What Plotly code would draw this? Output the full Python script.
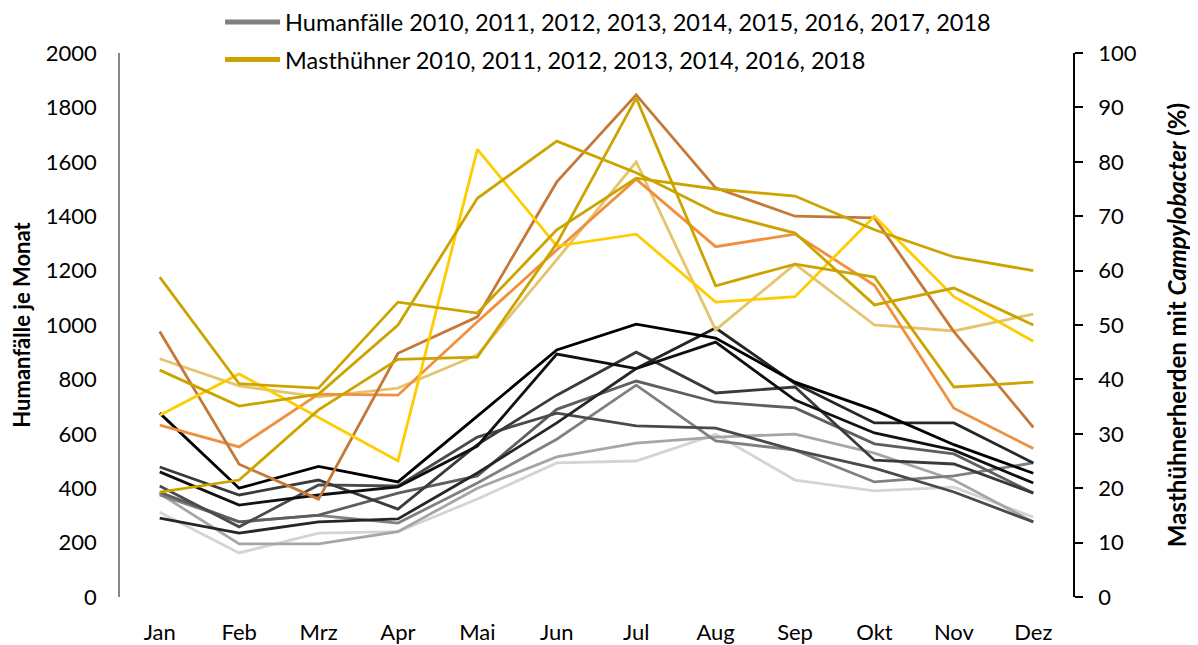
import plotly.graph_objects as go

months = ["Jan", "Feb", "Mrz", "Apr", "Mai", "Jun", "Jul", "Aug", "Sep", "Okt", "Nov", "Dez"]

# Humanfälle je Monat (left axis), one list per year line
human_a = [676, 400, 480, 423, 665, 908, 1003, 952, 790, 687, 560, 455]
human_b = [460, 338, 375, 405, 555, 893, 840, 937, 724, 603, 540, 419]
human_c = [408, 258, 412, 408, 588, 676, 629, 621, 540, 474, 386, 276]
human_d = [478, 375, 430, 323, 560, 742, 900, 750, 772, 503, 489, 382]
human_e = [290, 235, 276, 287, 456, 640, 840, 989, 785, 640, 640, 493]
human_f = [385, 276, 301, 382, 445, 690, 794, 717, 695, 563, 526, 382]
human_g = [375, 276, 300, 272, 419, 580, 779, 574, 540, 423, 445, 493]
human_h = [380, 195, 195, 240, 400, 515, 566, 588, 599, 529, 430, 276]
human_i = [312, 162, 235, 240, 360, 493, 500, 598, 430, 390, 404, 294]

# Masthühnerherden mit Campylobacter in % (right axis)
broiler_g1 = [58.8, 39.2, 38.4, 54.2, 52.2, 67.5, 77.0, 75.0, 73.7, 67.5, 62.5, 60.0]
broiler_g2 = [41.7, 35.1, 37.3, 50.0, 73.3, 83.8, 78.0, 70.7, 66.9, 53.7, 56.8, 50.0]
broiler_g3 = [19.3, 21.5, 34.4, 43.7, 44.1, 65.0, 91.7, 57.2, 61.2, 58.8, 38.6, 39.5]
broiler_brown = [48.8, 24.4, 18.0, 44.8, 51.5, 76.3, 92.3, 75.2, 70.0, 69.7, 48.8, 31.2]
broiler_orange = [31.6, 27.6, 37.3, 37.1, 50.6, 63.8, 76.8, 64.4, 66.7, 57.3, 34.7, 27.3]
broiler_yellow = [33.4, 41.0, 33.0, 25.0, 82.3, 64.5, 66.7, 54.2, 55.2, 70.0, 55.2, 47.0]
broiler_tan = [43.8, 38.8, 36.8, 38.4, 44.5, 62.0, 80.0, 49.1, 61.2, 50.0, 48.9, 52.0]

human_series = [
    (human_i, "#d4d4d4"), (human_h, "#a6a6a6"), (human_g, "#808080"),
    (human_f, "#5e5e5e"), (human_c, "#4a4a4a"), (human_d, "#3a3a3a"),
    (human_e, "#262626"), (human_b, "#101010"), (human_a, "#000000"),
]
broiler_series = [
    (broiler_tan, "#e5c46e"), (broiler_orange, "#f0903e"), (broiler_brown, "#c57838"),
    (broiler_yellow, "#ffcc00"), (broiler_g3, "#cca400"), (broiler_g2, "#cca400"),
    (broiler_g1, "#cca400"),
]

fig = go.Figure()

for vals, col in human_series:
    fig.add_trace(go.Scatter(x=months, y=vals, mode="lines", showlegend=False,
                             line=dict(color=col, width=2.8), hoverinfo="skip"))

for vals, col in broiler_series:
    fig.add_trace(go.Scatter(x=months, y=vals, mode="lines", showlegend=False, yaxis="y2",
                             line=dict(color=col, width=2.8), hoverinfo="skip"))

# legend-only entries
fig.add_trace(go.Scatter(x=[None], y=[None], mode="lines", legendgroup="h",
                         name="Humanfälle 2010, 2011, 2012, 2013, 2014, 2015, 2016, 2017, 2018",
                         line=dict(color="#808080", width=5)))
fig.add_trace(go.Scatter(x=[None], y=[None], mode="lines", legendgroup="m",
                         name="Masthühner 2010, 2011, 2012, 2013, 2014, 2016, 2018",
                         line=dict(color="#cca400", width=5)))

font = "Lato, Open Sans, sans-serif"

# page body adds ~8px offset, so the figure is sized to fill the rest of the window
fig.update_layout(
    width=1190, height=637,
    margin=dict(l=112, r=125, t=45, b=48, autoexpand=False),
    paper_bgcolor="white", plot_bgcolor="white",
    font=dict(family=font, size=22, color="black"),
    legend=dict(x=0.105, y=1.097, xanchor="left", yanchor="top", orientation="v",
                font=dict(size=23.5), tracegroupgap=4, itemwidth=55,
                bgcolor="rgba(0,0,0,0)"),
    xaxis=dict(range=[-0.5, 11.5], showgrid=False, showline=False, zeroline=False,
               ticks="", tickfont=dict(size=22), ticklabelstandoff=20),
    yaxis=dict(range=[0, 2000], dtick=200, showgrid=False, zeroline=False,
               showline=True, linecolor="#868686", linewidth=1.5, ticks="",
               tickfont=dict(size=22), ticklabelstandoff=17,
               title=dict(text="<b>Humanfälle je Monat</b>", font=dict(size=22), standoff=12)),
    yaxis2=dict(range=[0, 100], dtick=10, overlaying="y", side="right", showgrid=False,
                zeroline=False, showline=True, linecolor="black", linewidth=1.5,
                ticks="outside", ticklen=8, tickcolor="black", tickwidth=1.5,
                tickfont=dict(size=22), ticklabelstandoff=11,
                title=dict(text="<b>Masthühnerherden mit <i>Campylobacter</i> (%)</b>",
                           font=dict(size=24), standoff=34)),
)

fig.write_html("out.html")
